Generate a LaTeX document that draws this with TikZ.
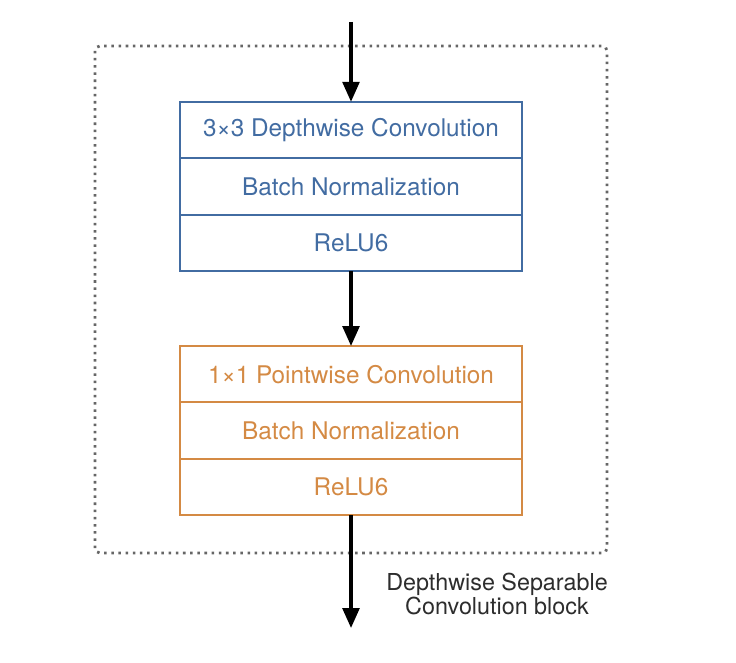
\documentclass[tikz,border=0pt]{standalone}
\usepackage{fontspec}
\setmainfont{TeX Gyre Heros}
\usetikzlibrary{arrows.meta,positioning,calc}
\definecolor{dwblue}{RGB}{66,108,162}
\definecolor{pworange}{RGB}{212,138,68}
\definecolor{labelgray}{RGB}{45,45,45}
\tikzset{row/.style={
            draw,
            line width=1.5pt,
            minimum width=8.55cm,
            minimum height=1.41cm,
            inner sep=0pt,
            outer sep=0pt,
            font=\fontsize{17.3}{20}\selectfont
        },
        dwrow/.style={
            row,
            draw=dwblue,
            text=dwblue
        },
        pwrow/.style={
            row,
            draw=pworange,
            text=pworange
        },
        dotbox/.style={
            draw=black!60,
            line width=2pt,
            dash pattern=on 1.8pt off 3.3pt,
            rounded corners=0.12cm
        },
        flow/.style={
            -{Triangle[length=0.5cm,width=0.42cm]},
            line width=2.4pt,
            black
        }
    }
\begin{document}
\begin{tikzpicture}
        \useasboundingbox (0,0) rectangle (18.4,-16.55);
        \draw[dotbox] (2.375,-1.15) rectangle (15.175,-13.825);
        \node[dwrow] at (8.775,-3.25) (dwconv) {3×3 Depthwise Convolution};
        \node[dwrow,below=0pt of dwconv] (dwbn) {Batch Normalization};
        \node[dwrow,below=0pt of dwbn] (dwrelu) {ReLU6};
        \node[pwrow] at (8.775,-9.355) (pwconv) {1×1 Pointwise Convolution};
        \node[pwrow,below=0pt of pwconv] (pwbn) {Batch Normalization};
        \node[pwrow,below=0pt of pwbn] (pwrelu) {ReLU6};
        \coordinate (input) at (8.775,-0.55);
        \coordinate (output) at (8.775,-15.7);
        \draw[flow] (input) -- (dwconv.north);
        \draw[flow] (dwrelu.south) -- (pwconv.north);
        \draw[flow] (pwrelu.south) -- (output);
        \node[align=center,text=labelgray,font=\fontsize{16.6}{17.5}\selectfont] at (12.425,-14.85) (blocklabel) {Depthwise Separable\\Convolution block};
    \end{tikzpicture}
\end{document}
